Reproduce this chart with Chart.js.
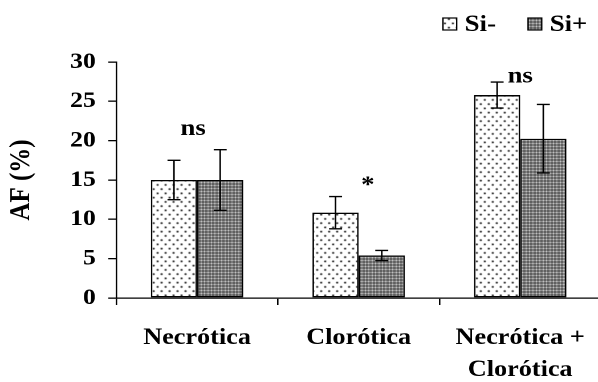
<!DOCTYPE html>
<html>
<head>
<meta charset="utf-8">
<script src="https://cdn.jsdelivr.net/npm/chart.js@4.4.1/dist/chart.umd.min.js"></script>
<style>
  html, body { margin: 0; padding: 0; background: #fff; overflow: hidden; }
  #wrap { width: 598px; height: 382px; overflow: hidden; }
  /* the original figure is stretched sideways, so we stretch the canvas too */
  #afChart { display: block; transform: scaleX(1.14); transform-origin: 0 0; }
</style>
</head>
<body>
<div id="wrap"><canvas id="afChart" width="530" height="382"></canvas></div>
<script>
// ---- data ----
const categories = ['Necrótica', 'Clorótica', ['Necrótica +', 'Clorótica']];
const seriesNames = ['Si-', 'Si+'];
const siMinus = [15.0, 10.85, 25.8];
const siPlus = [15.0, 5.4, 20.25];
const siMinusErr = [2.5, 2.05, 1.65];
const siPlusErr = [3.85, 0.65, 4.35];
const yTicks = [0, 5, 10, 15, 20, 25, 30];
const sigLabels = ['ns', '*', 'ns'];

const FONT = "'Liberation Serif', 'Times New Roman', serif";

// dotted fill for Si-
function dotPattern(ctx) {
  const c = document.createElement('canvas');
  c.width = 14; c.height = 17;
  const g = c.getContext('2d');
  g.fillStyle = '#fff';
  g.fillRect(0, 0, 14, 17);
  [[3.5, 4.25], [10.5, 12.75]].forEach(p => {
    g.fillStyle = '#bdbdbd';
    g.beginPath(); g.arc(p[0], p[1], 2.8, 0, Math.PI * 2); g.fill();
    g.fillStyle = '#404040';
    g.beginPath(); g.arc(p[0], p[1], 1.6, 0, Math.PI * 2); g.fill();
  });
  const pat = ctx.createPattern(c, 'repeat');
  pat.setTransform(new DOMMatrix().scale(0.5));
  return pat;
}

// fine checkered fill for Si+
function checkPattern(ctx) {
  const c = document.createElement('canvas');
  c.width = 6; c.height = 6;
  const g = c.getContext('2d');
  g.fillStyle = '#8c8c8c';
  g.fillRect(0, 0, 6, 6);
  g.fillStyle = '#606060';
  g.fillRect(0, 0, 4, 4);
  g.fillStyle = '#dcdcdc';
  g.fillRect(4.2, 4.2, 1.6, 1.6);
  const pat = ctx.createPattern(c, 'repeat');
  pat.setTransform(new DOMMatrix().scale(0.5));
  return pat;
}

const canvas = document.getElementById('afChart');
const ctx = canvas.getContext('2d');
const fills = [dotPattern(ctx), checkPattern(ctx)];
const errors = [siMinusErr, siPlusErr];

// error bars drawn through the y scale
const errorBars = {
  id: 'errorBars',
  afterDatasetsDraw(chart) {
    const c = chart.ctx;
    const y = chart.scales.y;
    c.save();
    c.strokeStyle = '#000';
    c.lineWidth = 1.4;
    chart.data.datasets.forEach((ds, di) => {
      chart.getDatasetMeta(di).data.forEach((bar, i) => {
        const v = ds.data[i], e = errors[di][i];
        const top = y.getPixelForValue(v + e);
        const bot = y.getPixelForValue(v - e);
        const half = 5.7;
        c.beginPath();
        c.moveTo(bar.x, top); c.lineTo(bar.x, bot);
        c.moveTo(bar.x - half, top); c.lineTo(bar.x + half, top);
        c.moveTo(bar.x - half, bot); c.lineTo(bar.x + half, bot);
        c.stroke();
      });
    });
    c.restore();
  }
};

// significance marks above each group
const sigMarks = {
  id: 'sigMarks',
  afterDatasetsDraw(chart, args, opts) {
    const c = chart.ctx;
    const x = chart.scales.x, y = chart.scales.y;
    c.save();
    c.fillStyle = '#000';
    c.font = 'bold 23.5px ' + FONT;
    c.textAlign = 'center';
    c.textBaseline = 'alphabetic';
    opts.marks.forEach((m, i) => {
      c.fillText(sigLabels[i], x.getPixelForValue(i) + m.dx, y.getPixelForValue(m.y));
    });
    c.restore();
  }
};

// legend in the top right corner
const boxLegend = {
  id: 'boxLegend',
  afterDraw(chart, args, opts) {
    const c = chart.ctx;
    c.save();
    c.font = 'bold 23.5px ' + FONT;
    c.textBaseline = 'middle';
    c.textAlign = 'left';
    chart.data.datasets.forEach((ds, i) => {
      const bx = opts.x[i];
      c.fillStyle = ds.backgroundColor;
      c.fillRect(bx, opts.y, 12, 12);
      c.strokeStyle = '#000';
      c.lineWidth = 1.2;
      c.strokeRect(bx, opts.y, 12, 12);
      c.fillStyle = '#000';
      c.fillText(ds.label, bx + 19, opts.y + 7);
    });
    c.restore();
  }
};

new Chart(ctx, {
  type: 'bar',
  data: {
    labels: categories,
    datasets: [
      { label: seriesNames[0], data: siMinus, backgroundColor: fills[0] },
      { label: seriesNames[1], data: siPlus, backgroundColor: fills[1] }
    ]
  },
  options: {
    responsive: false,
    animation: false,
    devicePixelRatio: 2,
    layout: { padding: { top: 62, left: 0, right: 0, bottom: 0 } },
    datasets: {
      bar: {
        borderColor: '#000',
        borderWidth: 1.4,
        borderSkipped: false,
        barPercentage: 1,
        categoryPercentage: 0.572
      }
    },
    scales: {
      x: {
        grid: { offset: true, drawOnChartArea: false, drawTicks: true, tickLength: 7, color: '#000', lineWidth: 1.3 },
        border: { display: true, color: '#000', width: 1.3 },
        ticks: {
          color: '#000',
          padding: 17,
          maxRotation: 0,
          font: { family: FONT, size: 23, weight: 'bold', lineHeight: 1.39 }
        },
        afterFit(s) { s.height = 84; }
      },
      y: {
        min: yTicks[0],
        max: yTicks[yTicks.length - 1],
        grid: { drawOnChartArea: false, drawTicks: true, tickLength: 7, color: '#000', lineWidth: 1.3 },
        border: { display: true, color: '#000', width: 1.3 },
        ticks: {
          stepSize: yTicks[1] - yTicks[0],
          color: '#000',
          padding: 11,
          font: { family: FONT, size: 22.5, weight: 'bold' }
        },
        title: {
          display: true,
          text: 'AF (%)',
          color: '#000',
          padding: { top: 4, bottom: 0 },
          font: { family: FONT, size: 25, weight: 'bold' }
        },
        afterFit(s) { s.width = 102; }
      }
    },
    plugins: {
      legend: { display: false },
      tooltip: { enabled: false },
      sigMarks: { marks: [{ y: 20.7, dx: -3.5 }, { y: 13.5, dx: 8 }, { y: 27.4, dx: 0 }] },
      boxLegend: { x: [388.6, 463.2], y: 18 }
    }
  },
  plugins: [errorBars, sigMarks, boxLegend]
});
</script>
</body>
</html>
